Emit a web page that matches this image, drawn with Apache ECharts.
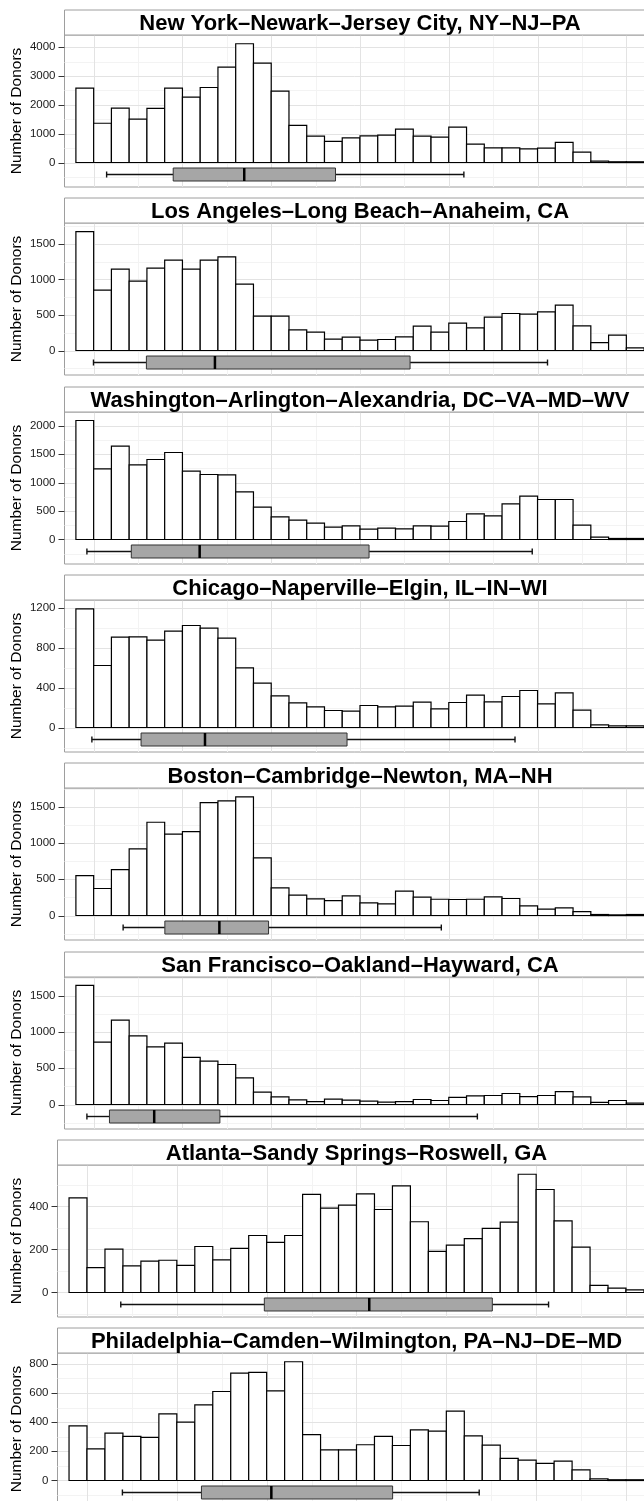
<!DOCTYPE html>
<html><head><meta charset="utf-8">
<script src="https://cdn.jsdelivr.net/npm/echarts@6/dist/echarts.min.js"></script>
<style>html,body{margin:0;padding:0;background:#fff}#c{width:644px;height:1501px}</style>
</head><body><div id="c"></div>
<script>
// ---------- DATA ----------
const titles = [
  'New York–Newark–Jersey City, NY–NJ–PA',
  'Los Angeles–Long Beach–Anaheim, CA',
  'Washington–Arlington–Alexandria, DC–VA–MD–WV',
  'Chicago–Naperville–Elgin, IL–IN–WI',
  'Boston–Cambridge–Newton, MA–NH',
  'San Francisco–Oakland–Hayward, CA',
  'Atlanta–Sandy Springs–Roswell, GA',
  'Philadelphia–Camden–Wilmington, PA–NJ–DE–MD'
];
const yAxisTitle = 'Number of Donors';

// histogram counts per bin (bin i spans [i, i+1])
const nyCounts  = [2580,1360,1885,1505,1875,2580,2265,2600,3305,4115,3445,2475,1285,915,730,855,925,950,1155,915,880,1225,635,510,510,475,495,695,360,45,25,25];
const laCounts  = [1670,848,1144,975,1158,1270,1144,1270,1317,933,483,483,291,258,159,187,145,155,192,342,258,384,319,469,520,511,544,637,347,112,216,37];
const dcCounts  = [2088,1240,1637,1310,1404,1526,1199,1140,1135,836,567,398,339,287,216,240,181,199,187,240,234,316,450,415,626,760,702,702,251,41,18,18];
const chiCounts = [1187,620,903,907,873,963,1020,993,893,597,443,317,247,207,170,163,220,207,213,253,187,250,323,257,310,370,237,347,173,27,17,17];
const bosCounts = [552,373,635,920,1288,1123,1159,1560,1583,1638,796,382,281,230,207,271,175,161,336,253,225,221,225,258,235,133,87,106,55,14,9,14];
const sfCounts  = [1643,860,1164,948,796,847,649,598,552,368,170,106,64,41,74,60,46,32,41,69,55,97,120,124,152,110,124,179,106,28,55,18];
const atlCounts = [440,116,202,124,146,150,126,214,152,205,265,233,265,456,392,406,459,386,496,329,191,220,251,298,327,550,479,333,211,33,20,12];
const phlCounts = [375,217,325,302,295,457,400,519,610,736,741,615,814,315,210,210,245,302,240,347,338,475,306,242,151,139,117,133,73,11,5,5];
const allCounts = [nyCounts, laCounts, dcCounts, chiCounts, bosCounts, sfCounts, atlCounts, phlCounts];

// boxplot stats in bin units: [lower whisker, Q1, median, Q3, upper whisker]
const nyBox  = [1.73, 5.48, 9.48, 14.62, 21.85];
const laBox  = [0.99, 3.97, 7.83, 18.82, 26.56];
const dcBox  = [0.62, 3.12, 6.97, 16.51, 25.70];
const chiBox = [0.90, 3.67, 7.27, 15.27, 24.73];
const bosBox = [2.66, 5.01, 8.08, 10.85, 20.58];
const sfBox  = [0.62, 1.89, 4.41, 8.11, 22.61];
const atlBox = [2.88, 10.87, 16.71, 23.56, 26.69];
const phlBox = [2.97, 7.37, 11.26, 18.01, 22.83];
const allBox = [nyBox, laBox, dcBox, chiBox, bosBox, sfBox, atlBox, phlBox];

// y tick labels (major) and minor gridline values
const yMajor = [
  [0,1000,2000,3000,4000],
  [0,500,1000,1500],
  [0,500,1000,1500,2000],
  [0,400,800,1200],
  [0,500,1000,1500],
  [0,500,1000,1500],
  [0,200,400],
  [0,200,400,600,800]
];
const yMinor = [
  [-500,500,1500,2500,3500],
  [-250,250,750,1250,1750],
  [-250,250,750,1250,1750],
  [-200,200,600,1000],
  [-250,250,750,1250,1750],
  [-250,250,750,1250,1750],
  [-100,100,300,500],
  [-100,100,300,500,700]
];
const xMajor = [1,6,11,16,21,26,31];
const xMinor = [3.5,8.5,13.5,18.5,23.5,28.5];

// ---------- LAYOUT ----------
const FONT = '"Liberation Sans", Arial, Helvetica, sans-serif';
const yRanges = [[-849,4419],[-344,1792],[-430,2237],[-245,1275],[-338,1761],[-338,1759],[-114,593],[-168,874]];
const plotTops = [35, 223, 412, 600, 788, 977, 1165, 1353];
const PLOT_H = 152, STRIP_H = 25, RIGHT = 655.5;
const X_MIN = -0.642, X_MAX = 32.642;
const BOX_OFFSET = 12, BOX_HALF = 6.5, CAP_HALF = 3, TICK_LEN = 6;
const lefts = [64.5, 64.5, 64.5, 64.5, 64.5, 64.5, 57.5, 57.5];

const grids = [], xAxes = [], yAxes = [], series = [], graphics = [];

for (let k = 0; k < 8; k++) {
  const L = lefts[k];
  const top = plotTops[k];
  grids.push({left: L, top: top, width: RIGHT - L, height: PLOT_H, show: true,
    borderColor: '#9e9e9e', borderWidth: 1, backgroundColor: '#fff',
    containLabel: false, outerBoundsMode: 'none'});
  xAxes.push({gridIndex: k, type: 'value', min: X_MIN, max: X_MAX, show: false});
  yAxes.push({gridIndex: k, type: 'value', min: yRanges[k][0], max: yRanges[k][1],
    axisLine: {show: false}, splitLine: {show: false}, axisTick: {show: false},
    axisLabel: {customValues: yMajor[k], fontSize: 11.5, color: '#1a1a1a', margin: 9, fontFamily: FONT,
      formatter: function (v) { return String(v); }},
    name: yAxisTitle, nameLocation: 'middle', nameGap: k < 6 ? 40 : 33, nameMoveOverlap: false,
    nameTextStyle: {fontSize: 15.5, color: '#000', fontFamily: FONT}});

  // gridlines
  const maj = yMajor[k], mnr = yMinor[k];
  series.push({type: 'custom', xAxisIndex: k, yAxisIndex: k, z: 1, silent: true,
    data: [[0, 0]],
    renderItem: function (params, api) {
      const cs = params.coordSys;
      const ch = [];
      const vline = (v, c) => { const x = Math.round(api.coord([v, 0])[0]) + 0.5;
        ch.push({type: 'line', shape: {x1: x, y1: cs.y, x2: x, y2: cs.y + cs.height}, style: {stroke: c, lineWidth: 1}}); };
      const hline = (v, c) => { const y = Math.round(api.coord([0, v])[1]) + 0.5;
        ch.push({type: 'line', shape: {x1: cs.x, y1: y, x2: cs.x + cs.width, y2: y}, style: {stroke: c, lineWidth: 1}}); };
      xMinor.forEach(v => vline(v, '#f3f3f3'));
      mnr.forEach(v => hline(v, '#f3f3f3'));
      xMajor.forEach(v => vline(v, '#e3e3e3'));
      maj.forEach(v => hline(v, '#e3e3e3'));
      return {type: 'group', children: ch};
    }});

  // histogram bars
  series.push({type: 'custom', xAxisIndex: k, yAxisIndex: k, z: 2, silent: true,
    data: allCounts[k].map((v, i) => [i, v]),
    renderItem: function (params, api) {
      const i = api.value(0), v = api.value(1);
      const p0 = api.coord([i, v]), p1 = api.coord([i + 1, 0]);
      return {type: 'rect', shape: {x: p0[0], y: p0[1], width: p1[0] - p0[0], height: p1[1] - p0[1]},
        style: {fill: '#fff', stroke: '#000', lineWidth: 1.2}};
    }});

  // boxplot
  series.push({type: 'custom', xAxisIndex: k, yAxisIndex: k, z: 3, silent: true,
    dimensions: ['lo', 'q1', 'med', 'q3', 'hi', 'y'],
    encode: {x: [0, 1, 2, 3, 4], y: 5},
    data: [allBox[k].concat([0])],
    renderItem: function (params, api) {
      const y0 = api.coord([0, 0])[1] + BOX_OFFSET;
      const xs = [0, 1, 2, 3, 4].map(d => api.coord([api.value(d), 0])[0]);
      const blk = '#111';
      return {type: 'group', children: [
        {type: 'line', shape: {x1: xs[0], y1: y0, x2: xs[1], y2: y0}, style: {stroke: blk, lineWidth: 1.4}},
        {type: 'line', shape: {x1: xs[3], y1: y0, x2: xs[4], y2: y0}, style: {stroke: blk, lineWidth: 1.4}},
        {type: 'line', shape: {x1: xs[0], y1: y0 - CAP_HALF, x2: xs[0], y2: y0 + CAP_HALF}, style: {stroke: blk, lineWidth: 1.4}},
        {type: 'line', shape: {x1: xs[4], y1: y0 - CAP_HALF, x2: xs[4], y2: y0 + CAP_HALF}, style: {stroke: blk, lineWidth: 1.4}},
        {type: 'rect', shape: {x: xs[1], y: y0 - BOX_HALF, width: xs[3] - xs[1], height: 2 * BOX_HALF},
          style: {fill: '#a6a6a6', stroke: '#333', lineWidth: 1}},
        {type: 'line', shape: {x1: xs[2], y1: y0 - BOX_HALF, x2: xs[2], y2: y0 + BOX_HALF}, style: {stroke: '#000', lineWidth: 2.5}}
      ]};
    }});

  // strip
  graphics.push({type: 'rect', silent: true, z: 10,
    shape: {x: L, y: top - STRIP_H, width: RIGHT - L, height: STRIP_H},
    style: {fill: '#fff', stroke: '#9e9e9e', lineWidth: 1}});
  graphics.push({type: 'text', silent: true, z: 11,
    x: (L + RIGHT) / 2, y: top - STRIP_H / 2 + 1,
    style: {text: titles[k], fontSize: 22, fontWeight: 'bold', fontFamily: FONT, fill: '#000',
      align: 'center', verticalAlign: 'middle'}});
}

// narrow tick grids just left of each panel, sharing the panel's y range
for (let k = 0; k < 8; k++) {
  const g = 8 + k;
  grids.push({left: lefts[k] - TICK_LEN, top: plotTops[k], width: TICK_LEN, height: PLOT_H, show: false,
    containLabel: false, outerBoundsMode: 'none'});
  xAxes.push({gridIndex: g, type: 'value', min: 0, max: 1, show: false});
  yAxes.push({gridIndex: g, type: 'value', min: yRanges[k][0], max: yRanges[k][1], show: false});
  series.push({type: 'custom', xAxisIndex: g, yAxisIndex: g, z: 4, silent: true,
    data: yMajor[k].map(v => [0, v]),
    renderItem: function (params, api) {
      const a = api.coord([0, api.value(1)]), b = api.coord([1, api.value(1)]);
      const y = Math.round(a[1]) + 0.5;
      return {type: 'line', shape: {x1: a[0], y1: y, x2: b[0], y2: y}, style: {stroke: '#333', lineWidth: 1}};
    }});
}

const chart = echarts.init(document.getElementById('c'), null, {renderer: 'canvas', width: 644, height: 1501});
chart.setOption({
  backgroundColor: '#fff',
  animation: false,
  grid: grids, xAxis: xAxes, yAxis: yAxes, series: series, graphic: graphics
});
</script></body></html>
